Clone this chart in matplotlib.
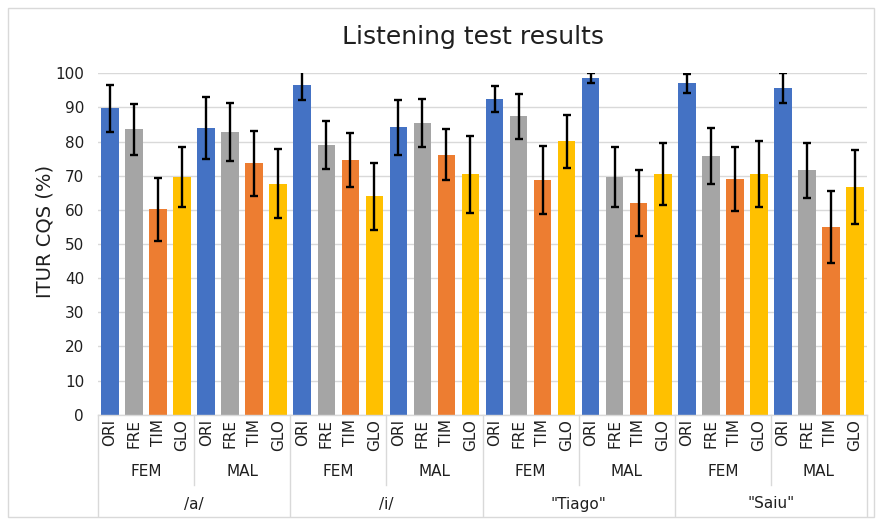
import matplotlib
matplotlib.use("Agg")
import matplotlib.pyplot as plt
from matplotlib.lines import Line2D
from matplotlib.patches import Rectangle
import numpy as np

plt.rcParams['font.family'] = ['DejaVu Sans']

stimuli = ['/a/', '/i/', '"Tiago"', '"Saiu"']
genders = ['FEM', 'MAL']
methods = ['ORI', 'FRE', 'TIM', 'GLO']
colors = ['#4472C4', '#A5A5A5', '#ED7D31', '#FFC000']

# values per (stimulus, gender) group, in order /a/ FEM, /a/ MAL, /i/ FEM, ...
ori = [89.7, 84.0, 96.5, 84.2, 92.5, 98.7, 97.1, 95.7]
fre = [83.6, 82.7, 78.9, 85.4, 87.4, 69.6, 75.7, 71.6]
tim = [60.2, 73.6, 74.5, 76.2, 68.7, 62.0, 69.0, 54.9]
glo = [69.6, 67.7, 64.0, 70.4, 80.1, 70.4, 70.6, 66.6]

ori_err = [7.0, 9.0, 4.4, 8.1, 3.8, 1.5, 2.8, 4.5]
fre_err = [7.5, 8.5, 7.0, 7.0, 6.5, 8.9, 8.2, 8.1]
tim_err = [9.2, 9.5, 7.9, 7.4, 9.9, 9.7, 9.3, 10.6]
glo_err = [8.8, 10.0, 9.8, 11.3, 7.8, 9.1, 9.7, 10.8]

series = [ori, fre, tim, glo]
errors = [ori_err, fre_err, tim_err, glo_err]

W, H = 876, 519
fig = plt.figure(figsize=(W / 100, H / 100), dpi=100)
left, right = 98 / W, 867 / W
bottom, top = 1 - 414.7 / H, 1 - 73.3 / H
ax = fig.add_axes([left, bottom, right - left, top - bottom])

ngroups = len(stimuli) * len(genders)
txtc = '#1f1f1f'
for k, (vals, errs) in enumerate(zip(series, errors)):
    x = np.arange(ngroups) * 4 + k
    ax.bar(x, vals, width=0.73, color=colors[k], zorder=2)
    ax.errorbar(x, vals, yerr=errs, fmt='none', ecolor='black', elinewidth=1.7,
                capsize=3.0, capthick=1.7, zorder=3)

ax.set_xlim(-0.5, 4 * ngroups - 0.5)
ax.set_ylim(0, 100)
ax.set_yticks(np.arange(0, 101, 10))
ax.tick_params(axis='y', length=0, labelsize=11, labelcolor=txtc, pad=10)
ax.set_xticks([])
ax.grid(axis='y', color='#D9D9D9', linewidth=1.0, zorder=0)
for s in ['left', 'right', 'top']:
    ax.spines[s].set_visible(False)
ax.spines['bottom'].set_color('#D9D9D9')
ax.spines['bottom'].set_linewidth(1.0)
ax.set_axisbelow(True)

fig.text(45 / W, 1 - 231 / H, 'ITUR CQS (%)', rotation=90, ha='center',
         va='center', fontsize=14, color=txtc)
fig.text(473.5 / W, 1 - 37 / H, 'Listening test results',
         ha='center', va='center', fontsize=18, color=txtc)

# multi-level category labels
trans = ax.get_xaxis_transform()
def ypx(p):
    return -(p - 414.7) / (414.7 - 73.3)

for g in range(ngroups):
    for k, m in enumerate(methods):
        ax.text(4 * g + k, ypx(419), m, rotation=90, ha='center', va='top',
                fontsize=11, color=txtc, transform=trans, clip_on=False)
    ax.text(4 * g + 1.5, ypx(472), genders[g % 2], ha='center', va='center',
            fontsize=11, color=txtc, transform=trans, clip_on=False)
for s, name in enumerate(stimuli):
    ax.text(8 * s + 3.5, ypx(504), name, ha='center', va='center',
            fontsize=11, color=txtc, transform=trans, clip_on=False)

for b in range(ngroups + 1):
    xb = 4 * b - 0.5
    yend = ypx(516) if b % 2 == 0 else ypx(485)
    ax.add_line(Line2D([xb, xb], [0, yend], transform=trans, color='#D9D9D9',
                       linewidth=1.0, clip_on=False))

# chart border
fig.add_artist(Rectangle((8 / W, 2 / H), (W - 10) / W, (H - 10) / H,
                         transform=fig.transFigure, fill=False,
                         edgecolor='#D9D9D9', linewidth=1.0))

fig.savefig('out.png', dpi=100, facecolor='white')
